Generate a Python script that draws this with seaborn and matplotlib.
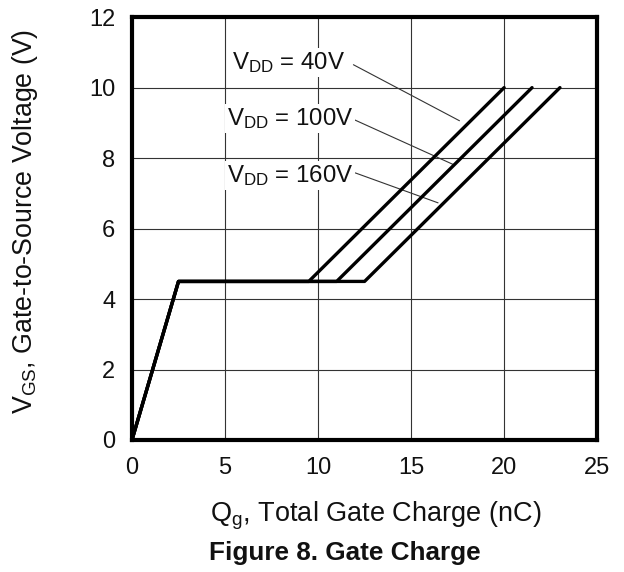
import matplotlib
matplotlib.use("Agg")
import matplotlib.pyplot as plt
import numpy as np
import pandas as pd
import seaborn as sns

# gate charge curves (Qg in nC, Vgs in V)
vgs = [0, 4.5, 4.5, 10]
qg_40 = [0, 2.5, 9.5, 20]
qg_100 = [0, 2.5, 11, 21.5]
qg_160 = [0, 2.5, 12.5, 23]
labels = ["V$_{\\mathrm{DD}}$ = 40V", "V$_{\\mathrm{DD}}$ = 100V", "V$_{\\mathrm{DD}}$ = 160V"]
label_pos = [(5.4, 10.72), (5.1, 9.12), (5.1, 7.5)]
leader_start = [(11.9, 10.65), (11.9, 9.1), (12.0, 7.58)]
leader_end = [(17.6, 9.06), (17.3, 7.81), (16.45, 6.73)]

x_ticks = [0, 5, 10, 15, 20, 25]
y_ticks = [0, 2, 4, 6, 8, 10, 12]

sns.set_style("white")
plt.rcParams["font.family"] = ["Liberation Sans", "DejaVu Sans"]
plt.rcParams["mathtext.fontset"] = "custom"
plt.rcParams["mathtext.rm"] = "Liberation Sans"
plt.rcParams["mathtext.it"] = "Liberation Sans"

fig = plt.figure(figsize=(6.24, 5.72), dpi=100)
ax = fig.add_axes([0.2115, 0.2308, 0.7455, 0.7392])

for qg in [qg_40, qg_100, qg_160]:
    sns.lineplot(x=qg, y=vgs, sort=False, estimator=None, color="black",
                 linewidth=2.4, ax=ax, zorder=3)

for txt, pos, s, e in zip(labels, label_pos, leader_start, leader_end):
    ax.text(pos[0], pos[1], txt, fontsize=17.3, va="center", ha="left",
            color="#111111", zorder=4,
            bbox=dict(facecolor="white", edgecolor="none", pad=1.5))
    ax.plot([s[0], e[0]], [s[1], e[1]], color="#333333", linewidth=0.8, zorder=2)

ax.set_xlim(0, 25)
ax.set_ylim(0, 12)
ax.set_xticks(x_ticks)
ax.set_yticks(y_ticks)
ax.grid(True, color="#333333", linewidth=0.8)
ax.tick_params(length=0, labelsize=17, colors="#111111")
ax.tick_params(axis="x", pad=12)
ax.tick_params(axis="y", pad=12)
for sp in ax.spines.values():
    sp.set_linewidth(3)
    sp.set_color("black")

ax.set_xlabel("Q$_{\\mathrm{g}}$, Total Gate Charge (nC)", fontsize=19.5, color="#111111")
ax.xaxis.set_label_coords(0.523, -0.142)
ax.set_ylabel("V$_{\\mathrm{GS}}$, Gate-to-Source Voltage (V)", fontsize=19.3,
              color="#111111")
ax.yaxis.set_label_coords(-0.198, 0.518)
fig.text(0.553, 0.034, "Figure 8. Gate Charge", fontsize=18.8, fontweight="bold",
         ha="center", va="center", color="#111111")

fig.savefig("out.png", dpi=100)
